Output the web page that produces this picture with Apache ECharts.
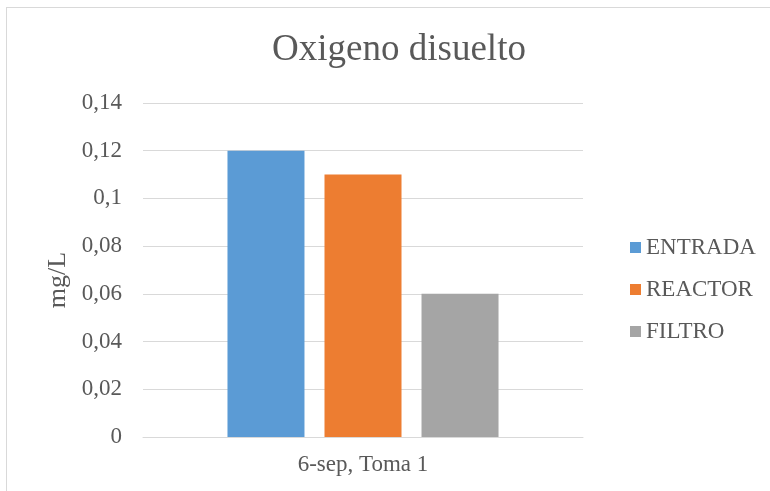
<!DOCTYPE html>
<html>
<head>
<meta charset="utf-8">
<script src="https://cdn.jsdelivr.net/npm/echarts@6/dist/echarts.min.js"></script>
<style>
  html, body { margin: 0; padding: 0; background: #fff; }
  .wrap { position: relative; width: 770px; height: 491px; overflow: hidden; }
  .frame {
    position: absolute; left: 6px; top: 7px; width: 800px; height: 520px;
    border: 1px solid #d9d9d9; box-sizing: border-box;
  }
  #chart { position: absolute; left: 0; top: 0; width: 770px; height: 491px; }
</style>
</head>
<body>
<div class="wrap">
  <div class="frame"></div>
  <div id="chart"></div>
</div>
<script>
const categories = ['6-sep, Toma 1']
const seriesNames = ['ENTRADA', 'REACTOR', 'FILTRO']
const entrada = [0.12]
const reactor = [0.11]
const filtro = [0.06]
const colors = ['#5b9bd5', '#ed7d31', '#a5a5a5']

const font = "'Liberation Serif', 'Times New Roman', serif"
const textColor = '#595959'

const chart = echarts.init(document.getElementById('chart'))
chart.setOption({
  animation: false,
  color: colors,
  title: {
    text: 'Oxigeno disuelto',
    left: 394,
    top: 27,
    textAlign: 'center',
    textStyle: { fontFamily: font, fontSize: 37, fontWeight: 'normal', color: textColor }
  },
  legend: {
    orient: 'vertical',
    left: 625,
    top: 231,
    itemWidth: 11,
    itemHeight: 11,
    itemGap: 19,
    icon: 'rect',
    textStyle: { fontFamily: font, fontSize: 23, color: textColor },
    data: seriesNames
  },
  grid: { left: 143, right: 187, top: 103, bottom: 54, containLabel: false },
  xAxis: {
    type: 'category',
    data: categories,
    axisLine: { lineStyle: { color: '#d9d9d9', width: 1 } },
    axisTick: { show: false },
    axisLabel: { fontFamily: font, fontSize: 23, color: textColor, margin: 16 }
  },
  yAxis: {
    type: 'value',
    min: 0,
    max: 0.14,
    interval: 0.02,
    name: 'mg/L',
    nameLocation: 'middle',
    nameGap: 66,
    nameRotate: 90,
    nameTextStyle: { fontFamily: font, fontSize: 26, color: textColor, padding: [0, 20, 0, 0] },
    axisLine: { show: false },
    axisTick: { show: false },
    splitLine: { lineStyle: { color: '#d9d9d9', width: 1 } },
    axisLabel: {
      fontFamily: font, fontSize: 23, color: textColor, margin: 21,
      formatter: v => String(+v.toFixed(2)).replace('.', ',')
    }
  },
  series: [
    { name: seriesNames[0], type: 'bar', data: entrada, barWidth: 77, barGap: '26%' },
    { name: seriesNames[1], type: 'bar', data: reactor, barWidth: 77, barGap: '26%' },
    { name: seriesNames[2], type: 'bar', data: filtro, barWidth: 77, barGap: '26%' }
  ]
})
</script>
</body>
</html>
